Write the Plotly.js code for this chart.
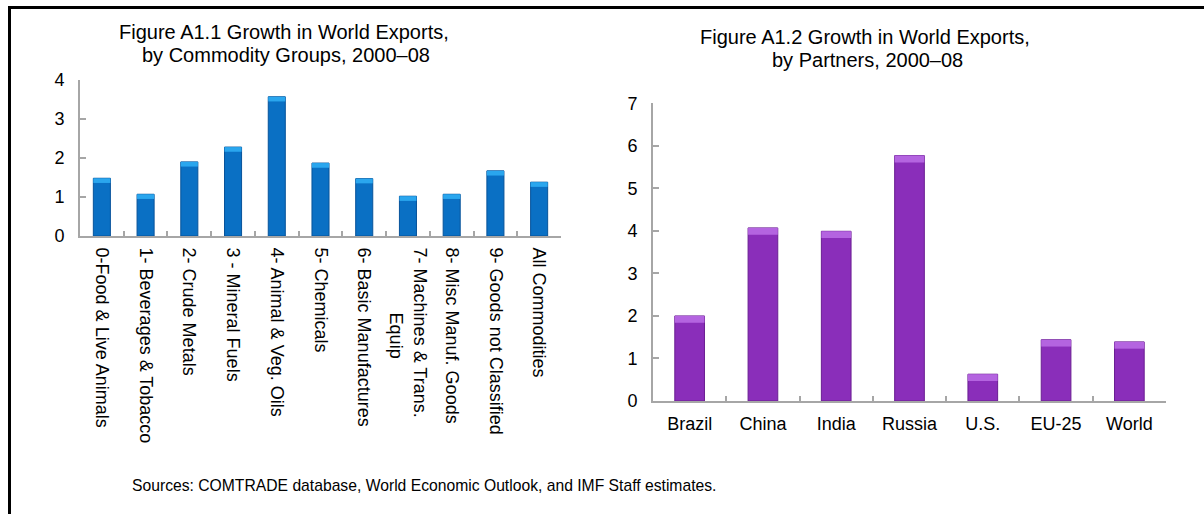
<!DOCTYPE html>
<html><head><meta charset="utf-8">
<script src="https://cdn.plot.ly/plotly-3.0.1.min.js"></script>
<style>html,body{margin:0;padding:0;background:#fff}</style>
</head><body><div id="chart" style="width:1204px;height:514px"></div>
<script>
// ---- data ----
const commodityGroups = [
  '0-Food & Live Animals',
  '1- Beverages & Tobacco',
  '2- Crude Metals',
  '3 - Mineral Fuels',
  '4- Animal & Veg. Oils',
  '5- Chemicals',
  '6- Basic Manufactures',
  '7- Machines & Trans.<br>\u00a0\u00a0\u00a0\u00a0\u00a0\u00a0\u00a0\u00a0\u00a0\u00a0\u00a0\u00a0\u00a0Equip',
  '8- Misc Manuf. Goods',
  '9- Goods not Classified',
  'All Commodities'
];
const commodityGrowth = [1.48, 1.07, 1.90, 2.28, 3.57, 1.87, 1.47, 1.02, 1.07, 1.67, 1.38];
const partners = ['Brazil', 'China', 'India', 'Russia', 'U.S.', 'EU-25', 'World'];
const partnerGrowth = [2.00, 4.07, 3.99, 5.77, 0.63, 1.44, 1.39];
const yTicks1 = [0, 1, 2, 3, 4];
const yTicks2 = [0, 1, 2, 3, 4, 5, 6, 7];
const title1 = ['Figure A1.1 Growth in World Exports,', 'by Commodity Groups, 2000\u201308'];
const title2 = ['Figure A1.2 Growth in World Exports,', 'by Partners, 2000\u201308'];
const sourceNote = 'Sources: COMTRADE database, World Economic Outlook, and IMF Staff estimates.';

// ---- styling ----
const FONT = 'Liberation Sans, Arial, Helvetica, sans-serif';
const W = 1204, H = 514;
const px = v => v / W;
const py = v => 1 - v / H;
const cap1 = 0.12, cap2 = 0.16;

const traces = [
  {type: 'bar', x: commodityGroups, y: commodityGrowth, xaxis: 'x', yaxis: 'y', width: 0.39,
   marker: {color: '#0A70C4', line: {color: '#07539A', width: 1}}, hoverinfo: 'x+y', showlegend: false},
  {type: 'bar', x: commodityGroups, y: commodityGrowth.map(() => cap1), base: commodityGrowth.map(v => v - cap1),
   xaxis: 'x', yaxis: 'y', width: 0.39, marker: {color: '#2AA6EE', line: {width: 0}}, hoverinfo: 'skip', showlegend: false},
  {type: 'bar', x: partners, y: partnerGrowth, xaxis: 'x2', yaxis: 'y2', width: 0.405,
   marker: {color: '#8A2EBA', line: {color: '#6A1E92', width: 1}}, hoverinfo: 'x+y', showlegend: false},
  {type: 'bar', x: partners, y: partnerGrowth.map(() => cap2), base: partnerGrowth.map(v => v - cap2),
   xaxis: 'x2', yaxis: 'y2', width: 0.405, marker: {color: '#B464E0', line: {width: 0}}, hoverinfo: 'skip', showlegend: false}
];

const axisCommon = {
  showline: true, linecolor: '#A6A6A6', linewidth: 2,
  ticks: 'inside', tickcolor: '#A6A6A6', tickwidth: 2,
  showgrid: false, zeroline: false, fixedrange: true,
  tickfont: {family: FONT, size: 18, color: '#000'}
};

const layout = {
  width: W, height: H,
  margin: {l: 0, r: 0, t: 0, b: 0, pad: 0},
  paper_bgcolor: '#fff', plot_bgcolor: '#fff',
  barmode: 'overlay', showlegend: false,
  font: {family: FONT, color: '#000'},
  xaxis: Object.assign({}, axisCommon, {
    domain: [px(80), px(561)], anchor: 'y', type: 'category',
    tickson: 'boundaries', ticklen: 5, tickangle: 90, ticklabelstandoff: 6
  }),
  yaxis: Object.assign({}, axisCommon, {
    domain: [py(236), py(80)], anchor: 'x', range: [0, 4],
    tickvals: yTicks1, ticktext: yTicks1.map(String), ticklen: 6, ticklabelstandoff: 10
  }),
  xaxis2: Object.assign({}, axisCommon, {
    domain: [px(653), px(1166)], anchor: 'y2', type: 'category',
    tickson: 'boundaries', ticklen: 5, tickangle: 0, ticklabelstandoff: 5
  }),
  yaxis2: Object.assign({}, axisCommon, {
    domain: [py(401), py(103.3)], anchor: 'x2', range: [0, 7],
    tickvals: yTicks2, ticktext: yTicks2.map(String), ticklen: 6, ticklabelstandoff: 10
  }),
  annotations: [
    {text: title1[0], xref: 'paper', yref: 'paper', x: px(284), y: py(32), xanchor: 'center', yanchor: 'middle', showarrow: false, font: {family: FONT, size: 20, color: '#000'}},
    {text: title1[1], xref: 'paper', yref: 'paper', x: px(286), y: py(55), xanchor: 'center', yanchor: 'middle', showarrow: false, font: {family: FONT, size: 20, color: '#000'}},
    {text: title2[0], xref: 'paper', yref: 'paper', x: px(865), y: py(37), xanchor: 'center', yanchor: 'middle', showarrow: false, font: {family: FONT, size: 20, color: '#000'}},
    {text: title2[1], xref: 'paper', yref: 'paper', x: px(867), y: py(60), xanchor: 'center', yanchor: 'middle', showarrow: false, font: {family: FONT, size: 20, color: '#000'}},
    {text: sourceNote, xref: 'paper', yref: 'paper', x: px(130), y: py(485), xanchor: 'left', yanchor: 'middle', showarrow: false, font: {family: FONT, size: 15.7, color: '#000'}}
  ],
  shapes: [
    {type: 'line', xref: 'paper', yref: 'paper', x0: px(9.5), x1: px(9.5), y0: 0, y1: py(6), line: {color: '#000', width: 3}},
    {type: 'line', xref: 'paper', yref: 'paper', x0: px(8), x1: 1, y0: py(7.5), y1: py(7.5), line: {color: '#000', width: 3}}
  ]
};

Plotly.newPlot('chart', traces, layout, {displayModeBar: false, staticPlot: true});
</script>
</body></html>
